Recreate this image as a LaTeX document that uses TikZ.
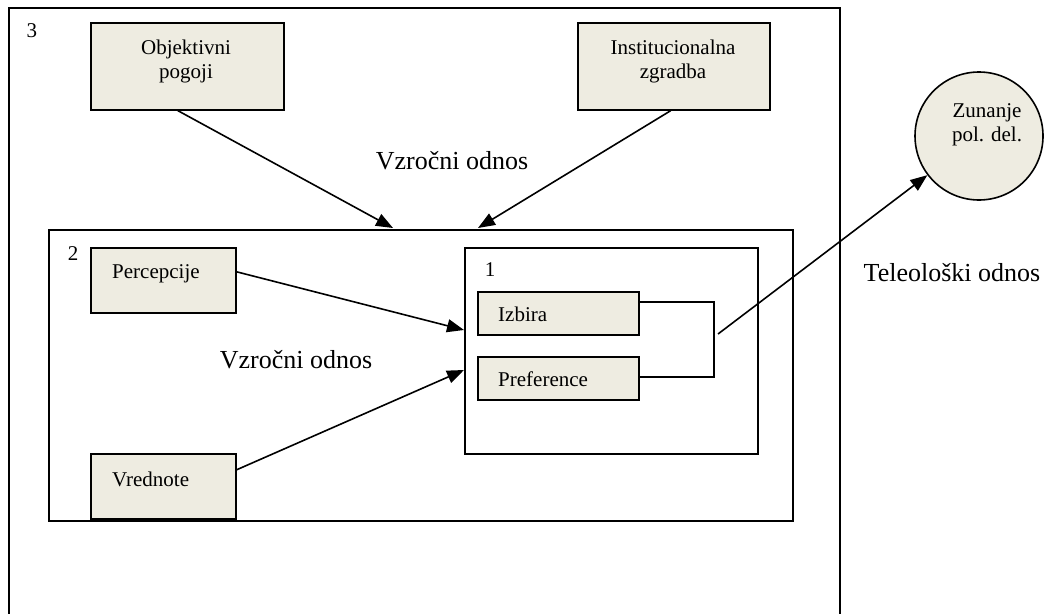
\documentclass[tikz,border=0pt]{standalone}
\usepackage{fontspec}
\setmainfont{Liberation Serif}
\usetikzlibrary{arrows.meta}
\definecolor{beige}{HTML}{EEECE1}
\begin{document}
\begin{tikzpicture}[x=1pt,y=-1pt,
  frame/.style={draw, line width=1.6pt, inner sep=0, anchor=north west},
  box/.style={draw, fill=beige, line width=1.6pt, inner sep=0, anchor=north west},
  txt/.style={font=\fontsize{21}{24}\selectfont, inner sep=0, align=center},
  big/.style={font=\fontsize{26}{30}\selectfont, inner sep=0},
  conn/.style={line width=1.6pt},
  arr/.style={conn, -{Triangle[length=17pt,width=13pt]}}]
\useasboundingbox (0,0) rectangle (1046,613);
% level 3 frame (open at the bottom)
\coordinate (f3bl) at (9,625);
\coordinate (f3br) at (840,625);
\draw[conn] (f3bl) -- (9,8) -- (840,8) -- (f3br);
\node[txt] (l3) at (32,31) {3};
% top boxes
\node[box, minimum width=193pt, minimum height=87pt] (obj) at (90,22) {};
\node[txt] (objt) at (186,61) {Objektivni\\pogoji};
\node[box, minimum width=192pt, minimum height=87pt] (ins) at (577,22) {};
\node[txt] (inst) at (673,61) {Institucionalna\\zgradba};
\node[big] (vz1) at (452,161) {Vzročni odnos};
% level 2 frame
\node[frame, minimum width=744pt, minimum height=291pt] (b2) at (48,229) {};
\node[txt] (l2) at (73,254) {2};
\node[box, minimum width=145pt, minimum height=65pt] (per) at (90,247) {};
\node[txt, anchor=west] (pert) at (112,274) {Percepcije};
\node[box, minimum width=145pt, minimum height=65pt] (vre) at (90,453) {};
\node[txt, anchor=west] (vret) at (112,479) {Vrednote};
\node[big] (vz2) at (296,360) {Vzročni odnos};
% level 1 frame
\node[frame, minimum width=293pt, minimum height=206pt] (b1) at (464,247) {};
\node[txt] (l1) at (490,270) {1};
\node[box, minimum width=161pt, minimum height=43pt] (izb) at (477,291) {};
\node[txt, anchor=west] (izbt) at (498,314) {Izbira};
\node[box, minimum width=161pt, minimum height=43pt] (pre) at (477,356) {};
\node[txt, anchor=west] (pret) at (498,379) {Preference};
% bracket
\coordinate (bt) at (714,302);
\coordinate (bb) at (714,377);
\coordinate (bs) at (718,334);
\draw[conn] (izb.east |- bt) -- (bt) -- (bb) -- (pre.east |- bb);
% external circle
\node[circle, draw, fill=beige, line width=1.6pt, minimum size=128pt, inner sep=0] (zun) at (979,136) {};
\node[txt] (zunt) at (987,125) {Zunanje\\pol. del.};
\node[big] (tel) at (952,273) {Teleološki odnos};
% connectors
\coordinate (t1) at (393,228);
\coordinate (t2) at (478,228);
\coordinate (t3) at (464,330);
\coordinate (t4) at (464,370);
\draw[arr] ([xshift=-9.5pt]obj.south) -- (t1);
\draw[arr] ([xshift=-3pt]ins.south) -- (t2);
\draw[arr] ([yshift=8.5pt]per.east) -- (t3);
\draw[arr] ([yshift=16.5pt]vre.east) -- (t4);
\draw[arr] (bs) -- (zun);
\end{tikzpicture}
\end{document}
